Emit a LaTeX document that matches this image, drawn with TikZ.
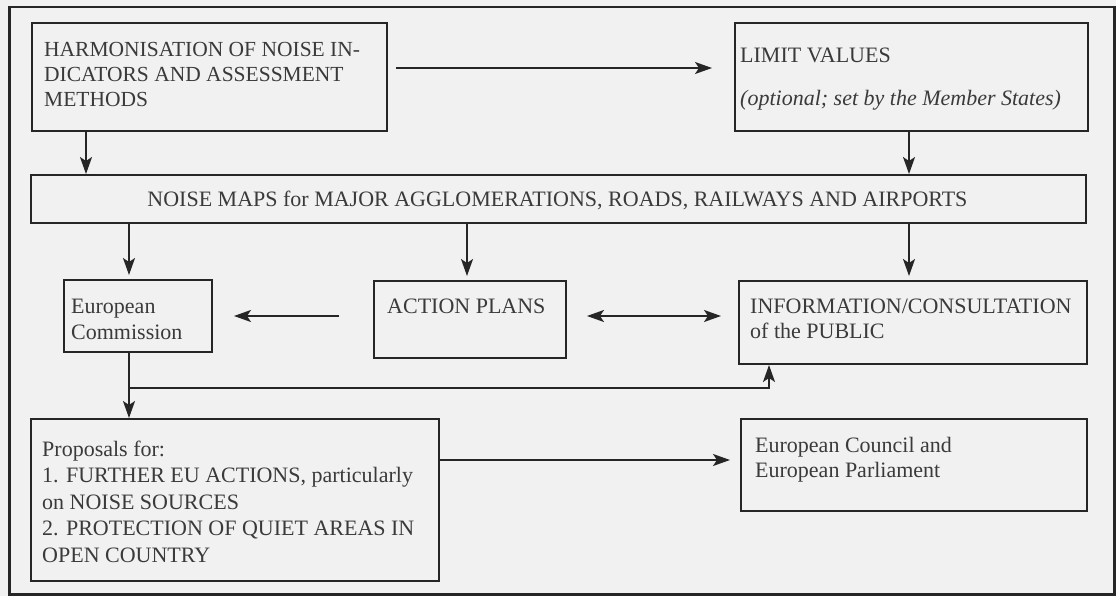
\documentclass[tikz,border=0pt]{standalone}
\usepackage{fontspec}
\setmainfont{Liberation Serif}
\usetikzlibrary{arrows.meta}
\definecolor{bg}{RGB}{241,241,241}
\definecolor{ln}{RGB}{38,38,38}
\definecolor{tx}{RGB}{58,58,58}
\begin{document}
\begin{tikzpicture}[x=1pt,y=-1pt,
  box/.style={draw=ln, line width=2pt, rectangle, inner sep=0pt, anchor=north west},
  txt/.style={text=tx, font=\fontsize{22}{26}\selectfont, inner sep=0pt, align=left, anchor=base west},
  arr/.style={draw=ln, line width=1.8pt, -{Stealth[length=17pt,width=12pt,inset=4pt]}},
  darr/.style={draw=ln, line width=1.8pt, {Stealth[length=17pt,width=12pt,inset=4pt]}-{Stealth[length=17pt,width=12pt,inset=4pt]}},
]
\fill[bg] (0,0) rectangle (1116,596);
\useasboundingbox (0,0) rectangle (1116,596);
\node[box, line width=2.5pt, minimum width=1105pt, minimum height=587pt] (frame) at (8,6) {};

% boxes
\node[box, minimum width=355pt, minimum height=108pt] (harm) at (31,22) {};
\node[box, minimum width=353pt, minimum height=108pt] (limit) at (734,22) {};
\node[box, minimum width=1055pt, minimum height=48pt] (noise) at (30,174) {};
\node[box, minimum width=148pt, minimum height=72pt] (ec) at (63,279) {};
\node[box, minimum width=192pt, minimum height=77pt] (ap) at (373,280) {};
\node[box, minimum width=348pt, minimum height=83pt] (info) at (738,280) {};
\node[box, minimum width=408pt, minimum height=162pt] (props) at (30,418) {};
\node[box, minimum width=346pt, minimum height=92pt] (council) at (740,418) {};

% texts (anchor = baseline of the last line)
\node[txt, font=\fontsize{21.5}{25}\selectfont] (harmt) at (44,107) {HARMONISATION OF NOISE IN-\\DICATORS AND ASSESSMENT\\METHODS};
\node[txt] (limitt) at (740,106) {LIMIT VALUES\\[17pt]\textit{(optional; set by the Member States)}};
\node[txt, anchor=base] (noiset) at (557.5,207) {NOISE MAPS for MAJOR AGGLOMERATIONS, ROADS, RAILWAYS AND AIRPORTS};
\node[txt] (ect) at (71,339) {European\\Commission};
\node[txt] (apt) at (387,313) {ACTION PLANS};
\node[txt, font=\fontsize{22}{25}\selectfont] (infot) at (750,338) {INFORMATION/CONSULTATION\\of the PUBLIC};
\node[txt, font=\fontsize{22}{26.5}\selectfont] (propst) at (42,562) {Proposals for:\\1. FURTHER EU ACTIONS, particularly\\on NOISE SOURCES\\2. PROTECTION OF QUIET AREAS IN\\OPEN COUNTRY};
\node[txt, font=\fontsize{22}{25}\selectfont] (councilt) at (755,477) {European Council and\\European Parliament};

% helper coordinates
\coordinate (rowA) at (0,68);
\coordinate (rowB) at (0,316);
\coordinate (rowC) at (0,460);
\coordinate (xA) at (86,0);
\coordinate (xL) at (909,0);
\coordinate (xE) at (129,0);
\coordinate (xP) at (467,0);
\coordinate (xI) at (769,0);
\coordinate (j) at (129,388);

% connectors
\draw[arr, shorten <=8pt, shorten >=22pt] (harm.east |- rowA) -- (limit.west |- rowA);
\draw[arr] (harm.south -| xA) -- (noise.north -| xA);
\draw[arr] (limit.south -| xL) -- (noise.north -| xL);
\draw[arr, shorten >=4pt] (noise.south -| xE) -- (ec.north -| xE);
\draw[arr, shorten >=4pt] (noise.south -| xP) -- (ap.north -| xP);
\draw[arr, shorten >=4pt] (noise.south -| xL) -- (info.north -| xL);
\draw[arr, shorten <=34pt, shorten >=21pt] (ap.west |- rowB) -- (ec.east |- rowB);
\draw[darr, shorten <=20pt, shorten >=17pt] (ap.east |- rowB) -- (info.west |- rowB);
\draw[arr] (ec.south -| xE) -- (props.north -| xE);
\draw[arr] (j) -- (j -| xI) -- (info.south -| xI);
\draw[arr, shorten >=10pt] (props.east |- rowC) -- (council.west |- rowC);
\end{tikzpicture}
\end{document}
